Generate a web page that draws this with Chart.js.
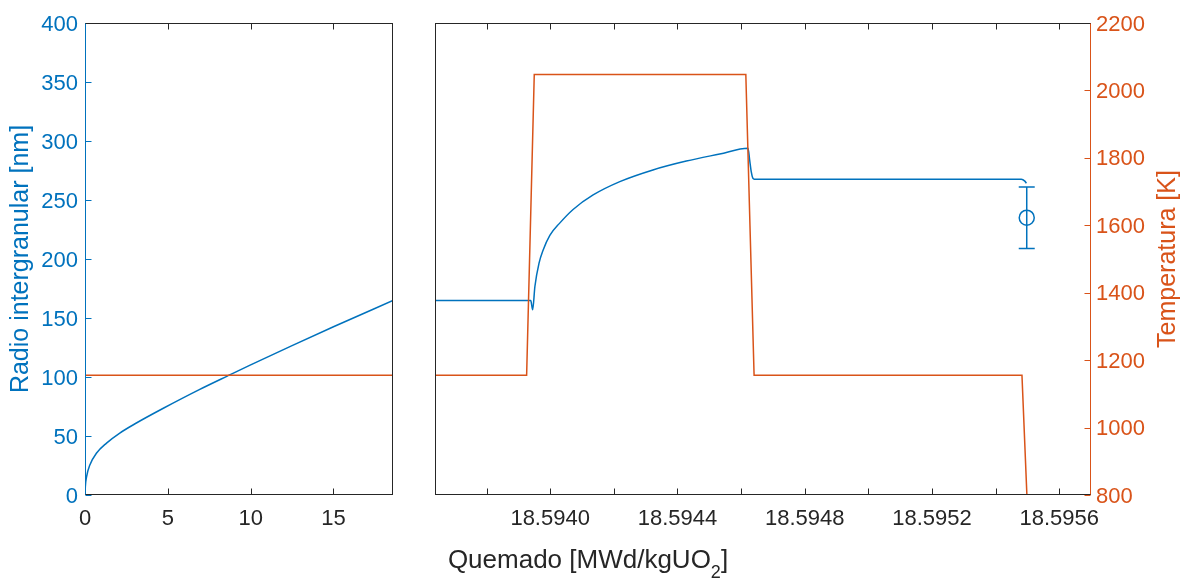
<!DOCTYPE html>
<html>
<head>
<meta charset="utf-8">
<title>Radio intergranular y temperatura vs. quemado</title>
<script src="https://cdn.jsdelivr.net/npm/chart.js@4.4.1/dist/chart.umd.min.js"></script>
<style>
  html, body { margin: 0; padding: 0; background: #ffffff; }
  #figure { position: relative; width: 1186px; height: 580px; overflow: hidden; }
  #base { position: absolute; left: 0; top: 0; }
  #ramp { position: absolute; left: 410px; top: 0; }
</style>
</head>
<body>
<div id="figure">
  <canvas id="base" width="410" height="580"></canvas>
  <canvas id="ramp" width="776" height="580"></canvas>
</div>
<script>
// ---- Irradiation history up to the ramp (burnup in MWd/kgUO2) ----
const baseBurnup      = [0, 0.02, 0.1, 0.3, 0.7, 1.3, 2.1, 3.1, 4.7, 6.9, 8.8, 10, 12.5, 15, 18.59364];
const baseRadius      = [0, 7, 15.8, 25.7, 35.6, 44, 52.5, 61, 73.3, 89.3, 102.2, 110.3, 126.6, 142.6, 164.8];
const baseTempBurnup  = [0, 18.59364];
const baseTemperature = [1155, 1155];

// ---- Power ramp (same burnup units, enlarged) ----
const rampBurnup = [18.593638, 18.593939, 18.593945, 18.593952, 18.593965, 18.593978, 18.593999,
                    18.594030, 18.594072, 18.594135, 18.594219, 18.594323, 18.594428, 18.594533,
                    18.594622, 18.594627, 18.594632, 18.594637, 18.594642, 18.595481, 18.595492,
                    18.595497];
const rampRadius = [164.8, 164.8, 156.9, 176.7, 196.5, 207.7, 220, 230.4, 242, 254.3, 265.6,
                    275.5, 283, 289, 293.9, 284, 274, 268.5, 267.6, 267.6, 266, 264.2];
const rampTempBurnup  = [18.593638, 18.593926, 18.593950, 18.594615, 18.594641, 18.595483, 18.5954985];
const rampTemperature = [1155, 1155, 2047, 2047, 1155, 1155, 800];

// ---- Post-irradiation measurement with its uncertainty ----
const measBurnup = [18.595498];
const measRadius = [235];
const measError  = [26];

// ---- Tick values ----
const baseXTicks   = [0, 5, 10, 15];
const radiusTicks  = [0, 50, 100, 150, 200, 250, 300, 350, 400];
const rampXLabels  = [18.5940, 18.5944, 18.5948, 18.5952, 18.5956];
const rampXMarks   = [18.5938, 18.5940, 18.5942, 18.5944, 18.5946, 18.5948, 18.5950, 18.5952, 18.5954, 18.5956];
const tempTicks    = [800, 1000, 1200, 1400, 1600, 1800, 2000, 2200];

const BLUE = '#0072BD';
const ORANGE = '#D95319';
const INK = '#262626';
const FONT = "'Liberation Sans', Arial, Helvetica, sans-serif";
const RAMP_OFFSET = 410;   // left position of the second canvas in the page

Chart.defaults.font.family = FONT;

const pts = (xs, ys) => xs.map((x, i) => ({ x, y: ys[i] }));

// Box around the plot area with inward tick marks
function framePlugin(cfg) {
  return {
    id: 'frame',
    afterDatasetsDraw(chart) {
      const { ctx, chartArea: a, scales } = chart;
      const L = Math.round(a.left) + 0.5, R = Math.round(a.right) - 0.5;
      const T = Math.round(a.top) + 0.5, B = Math.round(a.bottom) - 0.5;
      const seg = (x1, y1, x2, y2, c) => {
        ctx.strokeStyle = c; ctx.beginPath(); ctx.moveTo(x1, y1); ctx.lineTo(x2, y2); ctx.stroke();
      };
      ctx.save();
      ctx.lineWidth = 1;
      const xs = scales.x;
      cfg.xMarks.forEach(v => {
        const px = Math.round(xs.getPixelForValue(v)) + 0.5;
        seg(px, B, px, B - 6, INK);
        seg(px, T, px, T + 6, INK);
      });
      const ys = scales[cfg.yScale];
      cfg.yMarks.forEach(v => {
        const py = Math.round(ys.getPixelForValue(v)) + 0.5;
        if (cfg.ySide === 'left') seg(L, py, L + 6, py, cfg.yColor);
        else seg(R, py, R - 6, py, cfg.yColor);
      });
      seg(L - 0.5, T, R + 0.5, T, cfg.top);
      seg(L - 0.5, B, R + 0.5, B, cfg.bottom);
      seg(L, T, L, B, cfg.left);
      seg(R, T, R, B, cfg.right);
      ctx.restore();
    }
  };
}

// Axis titles; a part flagged "sub" is written as a subscript
function titlePlugin(items) {
  return {
    id: 'axisTitles',
    afterDraw(chart) {
      const ctx = chart.ctx;
      items.forEach(t => {
        const p = t.at(chart);
        const mainFont = `${t.size}px ${FONT}`;
        const subFont = `${Math.round(t.size * 0.7)}px ${FONT}`;
        ctx.save();
        ctx.translate(p.x, p.y);
        ctx.rotate(t.rotation || 0);
        ctx.fillStyle = t.color;
        ctx.textBaseline = 'alphabetic';
        ctx.textAlign = 'left';
        let w = 0;
        t.parts.forEach(part => { ctx.font = part.sub ? subFont : mainFont; w += ctx.measureText(part.text).width; });
        let x = -w / 2;
        t.parts.forEach(part => {
          ctx.font = part.sub ? subFont : mainFont;
          ctx.fillText(part.text, x, part.sub ? t.size * 0.38 : 0);
          x += ctx.measureText(part.text).width;
        });
        ctx.restore();
      });
    }
  };
}

// Vertical uncertainty bars with caps for the measurement
function errorBarPlugin() {
  return {
    id: 'errorBars',
    afterDatasetsDraw(chart) {
      const { ctx, scales } = chart;
      ctx.save();
      ctx.strokeStyle = BLUE;
      ctx.lineWidth = 1.5;
      measBurnup.forEach((b, i) => {
        const x = scales.x.getPixelForValue(b);
        const yHi = scales.yR.getPixelForValue(measRadius[i] + measError[i]);
        const yLo = scales.yR.getPixelForValue(measRadius[i] - measError[i]);
        ctx.beginPath();
        ctx.moveTo(x, yHi); ctx.lineTo(x, yLo);
        ctx.moveTo(x - 8, yHi); ctx.lineTo(x + 8, yHi);
        ctx.moveTo(x - 8, yLo); ctx.lineTo(x + 8, yLo);
        ctx.stroke();
      });
      ctx.restore();
    }
  };
}

const tickFont = { size: 22, family: FONT };

// ---------- Left panel: full irradiation ----------
const baseChart = new Chart(document.getElementById('base'), {
  type: 'line',
  data: {
    datasets: [
      { data: pts(baseTempBurnup, baseTemperature), yAxisID: 'yT', borderColor: ORANGE, borderWidth: 1.5,
        pointRadius: 0, tension: 0 },
      { data: pts(baseBurnup, baseRadius), yAxisID: 'y', borderColor: BLUE, borderWidth: 1.5,
        pointRadius: 0, cubicInterpolationMode: 'monotone' }
    ]
  },
  options: {
    responsive: false, animation: false, events: [],
    layout: { padding: { top: 23, right: 17, left: 0, bottom: 0 } },
    plugins: { legend: { display: false }, tooltip: { enabled: false } },
    scales: {
      x: {
        type: 'linear', position: 'bottom', min: 0, max: 18.59364,
        afterBuildTicks: s => { s.ticks = baseXTicks.map(v => ({ value: v })); },
        afterFit: s => { s.height = 85; },
        grid: { display: false, drawTicks: false }, border: { display: false },
        ticks: { color: INK, font: tickFont, padding: 11, maxRotation: 0, callback: v => String(v) }
      },
      y: {
        type: 'linear', position: 'left', min: 0, max: 400,
        afterBuildTicks: s => { s.ticks = radiusTicks.map(v => ({ value: v })); },
        afterFit: s => { s.width = 85; },
        grid: { display: false, drawTicks: false }, border: { display: false },
        ticks: { color: BLUE, font: tickFont, padding: 7, labelOffset: 1.5, callback: v => String(v) }
      },
      yT: { type: 'linear', display: false, min: 800, max: 2200 }
    }
  },
  plugins: [
    framePlugin({ xMarks: baseXTicks, yScale: 'y', yMarks: radiusTicks, ySide: 'left', yColor: BLUE,
                  top: INK, bottom: INK, left: BLUE, right: INK }),
    titlePlugin([
      { parts: [{ text: 'Radio intergranular [nm]' }], size: 25, color: BLUE, rotation: -Math.PI / 2,
        at: c => ({ x: c.chartArea.left - 57, y: (c.chartArea.top + c.chartArea.bottom) / 2 }) }
    ])
  ]
});

// ---------- Right panel: power ramp ----------
new Chart(document.getElementById('ramp'), {
  type: 'line',
  data: {
    datasets: [
      { data: pts(rampTempBurnup, rampTemperature), yAxisID: 'y2', borderColor: ORANGE, borderWidth: 1.5,
        pointRadius: 0, tension: 0 },
      { data: pts(rampBurnup, rampRadius), yAxisID: 'yR', borderColor: BLUE, borderWidth: 1.5,
        pointRadius: 0, cubicInterpolationMode: 'monotone' },
      { data: pts(measBurnup, measRadius), yAxisID: 'yR', showLine: false, pointStyle: 'circle',
        pointRadius: 7.5, pointBorderWidth: 1.5, pointBorderColor: BLUE, pointBackgroundColor: 'rgba(0,0,0,0)',
        borderColor: BLUE }
    ]
  },
  options: {
    responsive: false, animation: false, events: [],
    layout: { padding: { top: 23, right: 0, left: 25, bottom: 0 } },
    plugins: { legend: { display: false }, tooltip: { enabled: false } },
    scales: {
      x: {
        type: 'linear', position: 'bottom', min: 18.593638, max: 18.5957,
        afterBuildTicks: s => { s.ticks = rampXLabels.map(v => ({ value: v })); },
        afterFit: s => { s.height = 85; },
        grid: { display: false, drawTicks: false }, border: { display: false },
        ticks: { color: INK, font: tickFont, padding: 11, maxRotation: 0, callback: v => Number(v).toFixed(4) }
      },
      yR: { type: 'linear', display: false, min: 0, max: 400 },
      y2: {
        type: 'linear', position: 'right', min: 800, max: 2200,
        afterBuildTicks: s => { s.ticks = tempTicks.map(v => ({ value: v })); },
        afterFit: s => { s.width = 95; },
        grid: { display: false, drawTicks: false }, border: { display: false },
        ticks: { color: ORANGE, font: tickFont, padding: 5, labelOffset: 1.5, callback: v => String(v) }
      }
    }
  },
  plugins: [
    framePlugin({ xMarks: rampXMarks, yScale: 'y2', yMarks: tempTicks, ySide: 'right', yColor: ORANGE,
                  top: INK, bottom: INK, left: INK, right: ORANGE }),
    errorBarPlugin(),
    titlePlugin([
      { parts: [{ text: 'Temperatura [K]' }], size: 25, color: ORANGE, rotation: -Math.PI / 2,
        at: c => ({ x: c.chartArea.right + 84, y: (c.chartArea.top + c.chartArea.bottom) / 2 }) },
      { parts: [{ text: 'Quemado [MWd/kgUO' }, { text: '2', sub: true }, { text: ']' }], size: 26, color: INK,
        at: c => ({ x: (baseChart.chartArea.left - RAMP_OFFSET + c.chartArea.right) / 2, y: 568 }) }
    ])
  ]
});
</script>
</body>
</html>
